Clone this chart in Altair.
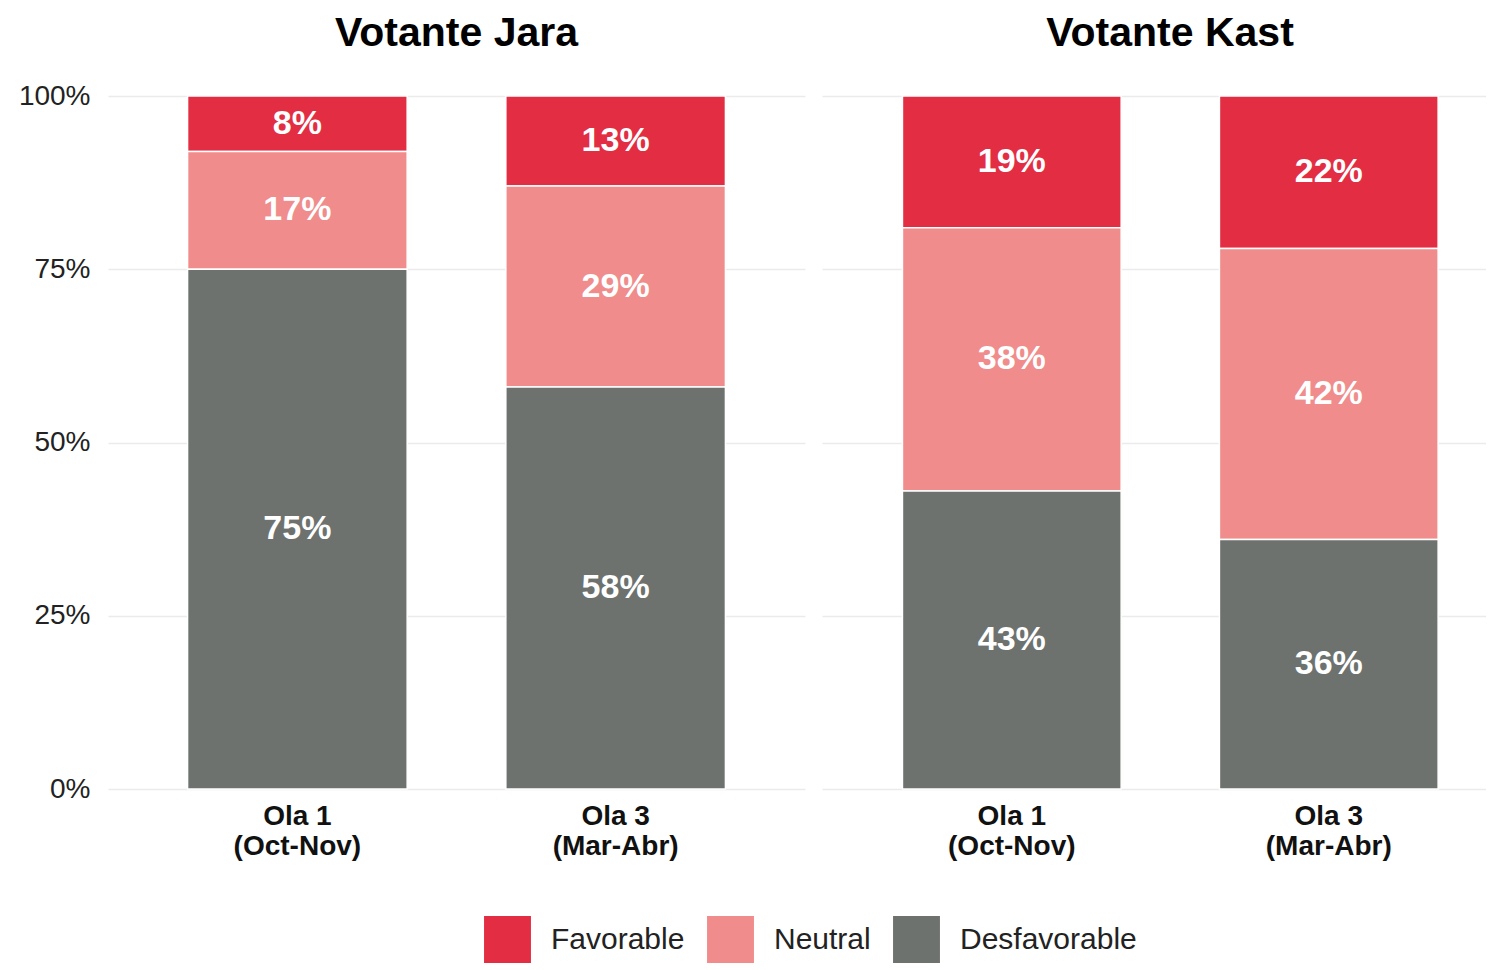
import altair as alt
import pandas as pd

grupos = ["Votante Jara", "Votante Kast"]
olas = ["Ola 1\n(Oct-Nov)", "Ola 3\n(Mar-Abr)"]
categorias = ["Favorable", "Neutral", "Desfavorable"]
colores = ["#E32D43", "#F08C8B", "#6D726F"]
orden_pila = [2, 1, 0]  # Desfavorable abajo, Favorable arriba

# valores en %, en el orden de `categorias`
jara_ola1 = [8, 17, 75]
jara_ola3 = [13, 29, 58]
kast_ola1 = [19, 38, 43]
kast_ola3 = [22, 42, 36]

series = {
    ("Votante Jara", olas[0]): jara_ola1,
    ("Votante Jara", olas[1]): jara_ola3,
    ("Votante Kast", olas[0]): kast_ola1,
    ("Votante Kast", olas[1]): kast_ola3,
}

rows = []
for (g, o), vals in series.items():
    for c, v, k in zip(categorias, vals, orden_pila):
        rows.append({"grupo": g, "ola": o, "categoria": c, "valor": v, "orden": k})
df = pd.DataFrame(rows)

FONT = "Liberation Sans"

legend = alt.Legend(
    orient="none", legendX=376, legendY=820, direction="horizontal", title=None,
    symbolType="square", symbolSize=2200, symbolStrokeWidth=0, symbolOpacity=1,
    labelFontSize=30, labelColor="#222222", labelOffset=20, columnPadding=22,
    labelFont=FONT, labelLimit=500,
)


def panel(grupo, width, pad_outer, align, show_y, title_dx, title_offset):
    base = (
        alt.Chart(df)
        .transform_filter(alt.datum.grupo == grupo)
        .transform_stack(
            stack="valor", as_=["y0", "y1"], groupby=["grupo", "ola"],
            sort=[alt.SortField("orden", order="ascending")],
        )
        .transform_calculate(ymid="(datum.y0 + datum.y1) / 2",
                             etiqueta="datum.valor + '%'")
    )
    x = alt.X(
        "ola:N", sort=olas,
        scale=alt.Scale(paddingInner=0.31, paddingOuter=pad_outer, align=align),
        axis=alt.Axis(
            title=None, labelExpr="split(datum.label, '\\n')", labelFontSize=28,
            labelFontWeight="bold", labelColor="#111111", labelLineHeight=30,
            labelPadding=13, labelAngle=0, ticks=False, domain=False, grid=False,
            labelFont=FONT, labelBaseline="top",
        ),
    )
    if show_y:
        yaxis = alt.Axis(
            title=None, values=[0, 25, 50, 75, 100], labelExpr="datum.value + '%'",
            labelFontSize=28, labelColor="#222222", labelPadding=18, ticks=False,
            domain=False, grid=True, gridColor="#EBEBEB", gridWidth=1.5,
            labelFont=FONT,
        )
    else:
        yaxis = alt.Axis(
            title=None, values=[0, 25, 50, 75, 100], labels=False, ticks=False,
            domain=False, grid=True, gridColor="#EBEBEB", gridWidth=1.5,
            minExtent=0, maxExtent=0,
        )
    yscale = alt.Scale(domain=[0, 100], nice=False)
    bars = base.mark_bar(stroke="white", strokeWidth=1.5).encode(
        x=x,
        y=alt.Y("y0:Q", scale=yscale, axis=yaxis),
        y2="y1:Q",
        color=alt.Color("categoria:N", scale=alt.Scale(domain=categorias, range=colores),
                        legend=legend),
    )
    text = base.mark_text(color="white", fontWeight="bold", fontSize=34, font=FONT,
                          baseline="middle").encode(
        x=x,
        y=alt.Y("ymid:Q", scale=yscale, axis=yaxis),
        text="etiqueta:N",
    )
    return alt.layer(bars, text).properties(
        width=width, height=693,
        view=alt.ViewBackground(strokeWidth=0, strokeOpacity=0),
        title=alt.TitleParams(text=grupo, fontSize=41, fontWeight="bold", color="black",
                              anchor="middle", font=FONT, offset=title_offset,
                              dx=title_dx),
    )


p1 = panel("Votante Jara", 697, 0.25, 0.5, True, 0, 27)
p2 = panel("Votante Kast", 664, 0.2024, 0.627, False, 16, 40)

chart = (
    alt.hconcat(p1, p2, spacing=17)
    .properties(padding={"left": 10, "top": 5, "right": 0, "bottom": 0})
    .configure_view(strokeWidth=0, strokeOpacity=0)
    .configure(font=FONT)
)

chart.save("out.html", embed_options={"renderer": "svg", "actions": False})
